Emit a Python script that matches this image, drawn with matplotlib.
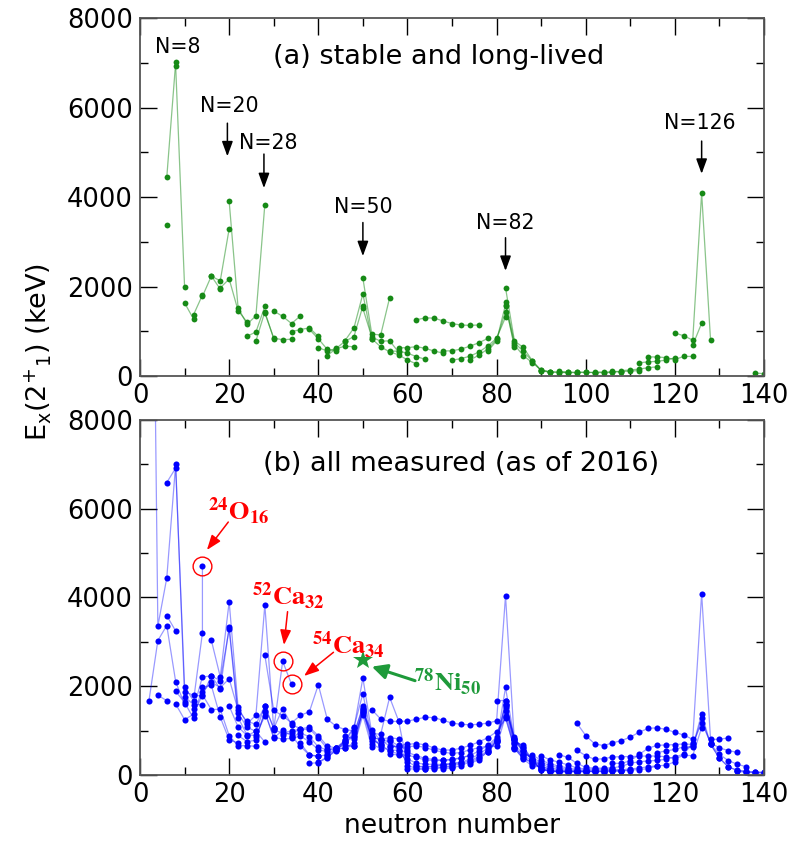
import matplotlib.pyplot as plt
from matplotlib.ticker import MultipleLocator

plt.rcParams['font.family'] = ['DejaVu Sans']
plt.rcParams['mathtext.fontset'] = 'dejavusans'

# ---- (a) stable and long-lived : (neutron number, E(2+1) keV) per element
a_Be = ([6], [3368])
a_C = ([6, 8], [4439, 7012])
a_O = ([8, 10], [6917, 1982])
a_Ne = ([10, 12], [1634, 1275])
a_Mg = ([12, 14], [1369, 1809])
a_Si = ([14, 16, 18], [1779, 2235, 1942])
a_S = ([16, 18, 20], [2231, 2128, 3291])
a_Ar = ([18, 20, 22, 24], [1970, 2168, 1461, 1208])
a_Ca = ([20, 22, 24, 26, 28], [3904, 1525, 1157, 1346, 3832])
a_Ti = ([24, 26, 28], [889, 984, 1554])
a_Cr = ([26, 28, 30], [783, 1434, 835])
a_Fe = ([28, 30, 32, 34], [1408, 847, 811, 824])
a_Ni = ([30, 32, 34, 36], [1454, 1333, 1173, 1346])
a_Zn = ([34, 36, 38, 40], [992, 1039, 1077, 885])
a_Ge = ([38, 40, 42, 44], [1040, 834, 596, 563])
a_Se = ([40, 42, 44, 46, 48], [635, 559, 614, 666, 655])
a_Kr = ([42, 44, 46, 48, 50], [455, 617, 777, 882, 1565])
a_Sr = ([46, 48, 50, 52], [793, 1077, 1836, 832])
a_Zr = ([50, 52, 54, 56], [2186, 935, 919, 1751])
a_Mo = ([50, 52, 54, 56, 58], [1510, 871, 778, 787, 536])
a_Ru = ([52, 54, 56, 58, 60, 62], [833, 652, 540, 475, 358, 270])
a_Pd = ([56, 58, 60, 62, 64], [556, 556, 512, 434, 374])
a_Cd = ([58, 60, 62, 64, 66, 68], [633, 633, 658, 618, 558, 513])
a_Sn = ([62, 64, 66, 68, 70, 72, 74, 76], [1257, 1300, 1294, 1230, 1171, 1141, 1132, 1141])
a_Te = ([68, 70, 72, 74, 76, 78], [560, 564, 603, 666, 743, 839])
a_Xe = ([70, 72, 74, 76, 78, 80, 82], [354, 389, 443, 536, 668, 847, 1313])
a_Ba = ([74, 76, 78, 80, 82], [357, 465, 605, 819, 1436])
a_Ce = ([78, 80, 82, 84], [552, 789, 1596, 641])
a_Nd = ([82, 84, 86, 88, 90], [1576, 697, 454, 302, 130])
a_Sm = ([82, 84, 86, 88, 90, 92], [1660, 747, 550, 334, 122, 82])
a_Gd = ([82, 84, 86, 88, 90, 92, 94, 96], [1972, 784, 638, 344, 123, 89, 79, 75])
a_Dy = ([90, 92, 94, 96, 98], [138, 99, 87, 81, 73])
a_Er = ([94, 96, 98, 100, 102], [102, 91, 81, 80, 79])
a_Yb = ([98, 100, 102, 104, 106], [88, 84, 79, 76, 82])
a_Hf = ([102, 104, 106, 108], [91, 88, 93, 93])
a_W = ([106, 108, 110, 112], [104, 100, 111, 122])
a_Os = ([108, 110, 112, 114, 116], [120, 137, 155, 187, 206])
a_Pt = ([112, 114, 116, 118, 120], [296, 317, 328, 356, 407])
a_Hg = ([114, 116, 118, 120, 122, 124], [428, 426, 412, 368, 440, 437])
a_Pb = ([120, 122, 124, 126, 128], [961, 899, 803, 4086, 800])
a_Po = ([124, 126], [687, 1181])
a_Th = ([138, 140], [68, 53])

stable = [a_Be, a_C, a_O, a_Ne, a_Mg, a_Si, a_S, a_Ar, a_Ca, a_Ti, a_Cr, a_Fe,
          a_Ni, a_Zn, a_Ge, a_Se, a_Kr, a_Sr, a_Zr, a_Mo, a_Ru, a_Pd, a_Cd,
          a_Sn, a_Te, a_Xe, a_Ba, a_Ce, a_Nd, a_Sm, a_Gd, a_Dy, a_Er, a_Yb,
          a_Hf, a_W, a_Os, a_Pt, a_Hg, a_Pb, a_Po, a_Th]

# ---- (b) all measured (as of 2016)
b_He = ([4, 6], [1797, 1675])
b_Be = ([2, 4, 6, 8, 10], [1670, 3030, 3368, 2102, 1590])
b_C = ([2, 4, 6, 8, 10, 12, 14], [21000, 3354, 4439, 7012, 1766, 1585, 1588])
b_X = ([6, 8], [3590, 3245])
b_O = ([6, 8, 10, 12, 14, 14], [6590, 6917, 1982, 1674, 3199, 4720])
b_Ne = ([8, 10, 12, 14, 16, 18, 20, 22], [1887, 1634, 1275, 1982, 2018, 1304, 791, 722])
b_Mg = ([8, 10, 12, 14, 16, 18, 20, 22, 24, 26], [1598, 1247, 1369, 1809, 1474, 1482, 885, 660, 660, 646])
b_Si = ([10, 12, 14, 16, 18, 20, 22, 24, 26, 28], [1879, 1796, 1779, 2235, 1942, 3328, 1399, 1071, 986, 742])
b_S = ([12, 14, 16, 18, 20, 22, 24, 26, 28], [1497, 2211, 2231, 2128, 3291, 1292, 904, 890, 1329])
b_Ar = ([14, 16, 18, 20, 22, 24, 26, 28, 30], [1867, 2091, 1970, 2168, 1461, 1208, 1144, 1554, 1050])
b_Ca = ([16, 18, 20, 22, 24, 26, 28, 30, 32, 34], [3036, 2213, 3904, 1525, 1157, 1346, 3832, 1027, 2563, 2043])
b_Ti = ([20, 22, 24, 26, 28, 30, 32, 34, 36], [1555, 1083, 889, 984, 1554, 1050, 1495, 1129, 1047])
b_Cr = ([22, 24, 26, 28, 30, 32, 34, 36, 38, 40], [892, 752, 783, 1434, 835, 1007, 880, 646, 446, 420])
b_Fe = ([26, 28, 30, 32, 34, 36, 38, 40, 42], [849, 1408, 847, 811, 824, 877, 746, 573, 522])
b_Ni = ([28, 30, 32, 34, 36, 38, 40, 42, 44, 46, 48], [2700, 1454, 1333, 1173, 1346, 1425, 2033, 1260, 1096, 1024, 992])
b_Zn = ([30, 32, 34, 36, 38, 40, 42, 44, 46, 48, 50], [1004, 954, 992, 1039, 1077, 885, 653, 606, 599, 730, 1492])
b_Ge = ([32, 34, 36, 38, 40, 42, 44, 46, 48, 50, 52], [902, 957, 1016, 1040, 834, 596, 563, 619, 659, 1348, 624])
b_Se = ([34, 36, 38, 40, 42, 44, 46, 48, 50, 52, 54], [854, 945, 862, 635, 559, 614, 666, 655, 1455, 704, 589])
b_Kr = ([36, 38, 40, 42, 44, 46, 48, 50, 52, 54, 56, 58, 60],
        [710, 456, 424, 455, 617, 777, 882, 1565, 775, 707, 769, 665, 554])
b_Sr = ([38, 40, 42, 44, 46, 48, 50, 52, 54, 56, 58, 60, 62, 64],
        [261, 278, 386, 574, 793, 1077, 1836, 832, 815, 837, 815, 144, 129, 126])
b_Zr = ([40, 42, 44, 46, 48, 50, 52, 54, 56, 58, 60, 62, 64, 66, 68, 70],
        [290, 407, 540, 752, 1057, 2186, 935, 919, 1751, 1223, 212, 152, 140, 152, 174, 185])
b_Mo = ([42, 44, 46, 48, 50, 52, 54, 56, 58, 60, 62, 64, 66, 68, 70],
        [444, 567, 740, 948, 1510, 871, 778, 787, 536, 297, 192, 172, 193, 214, 240])
b_Ru = ([44, 46, 48, 50, 52, 54, 56, 58, 60, 62, 64, 66, 68, 70, 72],
        [616, 739, 865, 1431, 833, 652, 540, 475, 358, 270, 242, 241, 237, 265, 270])
b_Pd = ([46, 48, 50, 52, 54, 56, 58, 60, 62, 64, 66, 68, 70, 72, 74],
        [874, 814, 1415, 863, 666, 556, 556, 512, 434, 374, 349, 333, 341, 379, 438])
b_Cd = ([50, 52, 54, 56, 58, 60, 62, 64, 66, 68, 70, 72, 74, 76, 78, 80, 82],
        [1395, 1004, 777, 658, 633, 633, 658, 618, 558, 513, 488, 506, 569, 613, 652, 645, 1325])
b_Sn = ([52, 54, 56, 58, 60, 62, 64, 66, 68, 70, 72, 74, 76, 78, 80, 82, 84, 86],
        [1472, 1260, 1208, 1206, 1212, 1257, 1300, 1294, 1230, 1171, 1141, 1132, 1141, 1169, 1221, 4041, 726, 682])
b_Te = ([56, 58, 60, 62, 64, 66, 68, 70, 72, 74, 76, 78, 80, 82, 84, 86],
        [625, 657, 689, 709, 679, 606, 560, 564, 603, 666, 743, 839, 974, 1279, 606, 443])
b_Xe = ([56, 58, 60, 62, 64, 66, 68, 70, 72, 74, 76, 78, 80, 82, 84, 86, 88, 90],
        [470, 453, 450, 394, 337, 323, 331, 354, 389, 443, 536, 668, 847, 1313, 589, 377, 287, 252])
b_Ba = ([62, 64, 66, 68, 70, 72, 74, 76, 78, 80, 82, 84, 86, 88, 90, 92],
        [200, 185, 196, 230, 256, 284, 357, 465, 605, 819, 1436, 602, 360, 199, 181, 142])
b_Ce = ([66, 68, 70, 72, 74, 76, 78, 80, 82, 84, 86, 88, 90, 92, 94],
        [142, 170, 207, 254, 325, 409, 552, 789, 1596, 641, 397, 258, 158, 97, 81])
b_Nd = ([68, 70, 72, 74, 76, 78, 80, 82, 84, 86, 88, 90, 92, 94, 96],
        [134, 159, 213, 294, 374, 521, 774, 1576, 697, 454, 302, 130, 73, 72, 67])
b_Sm = ([74, 76, 78, 80, 82, 84, 86, 88, 90, 92, 94, 96, 98],
        [254, 347, 531, 768, 1660, 747, 550, 334, 122, 82, 76, 73, 71])
b_Gd = ([78, 80, 82, 84, 86, 88, 90, 92, 94, 96, 98, 100],
        [515, 743, 1972, 784, 638, 344, 123, 89, 79, 75, 72, 69])
b_Dy = ([80, 82, 84, 86, 88, 90, 92, 94, 96, 98, 100, 102],
        [1677, 1678, 803, 614, 335, 138, 99, 87, 81, 73, 76, 74])
b_Er = ([82, 84, 86, 88, 90, 92, 94, 96, 98, 100, 102, 104],
        [1579, 808, 561, 345, 192, 126, 102, 91, 81, 80, 79, 77])
b_Yb = ([82, 84, 86, 88, 90, 92, 94, 96, 98, 100, 102, 104, 106, 108],
        [1531, 821, 536, 358, 243, 167, 123, 102, 88, 84, 79, 76, 82, 84])
b_Hf = ([84, 86, 88, 90, 92, 94, 96, 98, 100, 102, 104, 106, 108, 110],
        [858, 477, 390, 285, 211, 159, 124, 100, 95, 91, 88, 93, 93, 98])
b_W = ([88, 90, 92, 94, 96, 98, 100, 102, 104, 106, 108, 110, 112, 114, 116],
       [450, 332, 252, 199, 157, 123, 112, 109, 106, 104, 100, 111, 122, 143, 207])
b_Os = ([90, 92, 94, 96, 98, 100, 102, 104, 106, 108, 110, 112, 114, 116, 118, 120],
        [431, 341, 287, 228, 159, 135, 132, 132, 127, 120, 137, 155, 187, 206, 218, 300])
b_Pt = ([94, 96, 98, 100, 102, 104, 106, 108, 110, 112, 114, 116, 118, 120, 122, 124],
        [458, 394, 264, 170, 153, 155, 163, 192, 266, 296, 317, 328, 356, 407, 470, 719])
b_Hg = ([98, 100, 102, 104, 106, 108, 110, 112, 114, 116, 118, 120, 122, 124, 126],
        [558, 434, 352, 367, 405, 413, 416, 423, 428, 426, 412, 368, 440, 437, 1068])
b_Pb = ([98, 100, 102, 104, 106, 108, 110, 112, 114, 116, 118, 120, 122, 124, 126, 128, 130, 132],
        [1168, 888, 702, 662, 724, 774, 854, 965, 1049, 1064, 1027, 961, 899, 803, 4086, 800, 805, 836])
b_Po = ([106, 108, 110, 112, 114, 116, 118, 120, 122, 124, 126, 128, 130, 132, 134],
        [262, 262, 320, 463, 605, 666, 677, 684, 700, 687, 1181, 727, 609, 550, 509])
b_Rn = ([116, 118, 120, 122, 124, 126, 128, 130, 132, 134, 136],
        [504, 543, 575, 636, 644, 1274, 694, 462, 324, 241, 186])
b_Ra = ([122, 124, 126, 128, 130, 132, 134, 136, 138, 140],
        [603, 629, 1382, 688, 389, 178, 111, 84, 68, 64])
b_Th = ([128, 130, 132, 134, 136, 138, 140], [689, 373, 183, 98, 72, 58, 53])
b_U = ([134, 136, 138, 140], [81, 59, 52, 40])

measured = [b_He, b_Be, b_C, b_X, b_O, b_Ne, b_Mg, b_Si, b_S, b_Ar, b_Ca, b_Ti,
            b_Cr, b_Fe, b_Ni, b_Zn, b_Ge, b_Se, b_Kr, b_Sr, b_Zr, b_Mo, b_Ru,
            b_Pd, b_Cd, b_Sn, b_Te, b_Xe, b_Ba, b_Ce, b_Nd, b_Sm, b_Gd, b_Dy,
            b_Er, b_Yb, b_Hf, b_W, b_Os, b_Pt, b_Hg, b_Pb, b_Po, b_Rn, b_Ra,
            b_Th, b_U]

ni78 = ([50], [2600])

# magic number labels (panel a): text, N, label height, arrow start, arrow end
magic_txt = ['N=8', 'N=20', 'N=28', 'N=50', 'N=82', 'N=126']
magic_n = [8.5, 20, 28.7, 50, 82, 125.6]
magic_lab_y = [7350, 6030, 5210, 3780, 3420, 5650]
magic_arrow_n = [None, 19.6, 27.8, 50, 82, 126]
magic_arrow_y0 = [None, 5650, 4960, 3430, 3090, 5250]
magic_arrow_y1 = [None, 4910, 4200, 2680, 2350, 4520]

green = '#168a16'
blue = '#0000ff'

fig = plt.figure(figsize=(7.92, 8.42), dpi=100)
ax1 = fig.add_axes([0.1768, 0.5534, 0.7879, 0.4252])
ax2 = fig.add_axes([0.1768, 0.0796, 0.7879, 0.4216])

for n, e in stable:
    ax1.plot(n, e, '-', color=green, lw=0.9, alpha=0.5)
    ax1.plot(n, e, 'o', color=green, ms=4.2, mew=0)

for n, e in measured:
    ax2.plot(n, e, '-', color=blue, lw=0.9, alpha=0.4)
    ax2.plot(n, e, 'o', color=blue, ms=4.4, mew=0)

for ax in (ax1, ax2):
    ax.set_xlim(0, 140)
    ax.set_ylim(0, 8000)
    ax.xaxis.set_major_locator(MultipleLocator(20))
    ax.xaxis.set_minor_locator(MultipleLocator(10))
    ax.yaxis.set_major_locator(MultipleLocator(2000))
    ax.yaxis.set_minor_locator(MultipleLocator(1000))
    ax.tick_params(which='both', direction='in', top=True, right=True,
                   labelsize=18.5, width=1.0, color='k')
    ax.tick_params(which='major', length=12, pad=5)
    ax.tick_params(which='minor', length=6)
    for sp in ax.spines.values():
        sp.set_color('#555555')
        sp.set_linewidth(1.3)

ax1.text(67, 7130, '(a) stable and long-lived', fontsize=19.5, ha='center', va='center')
ax2.text(72, 7010, '(b) all measured (as of 2016)', fontsize=19.5, ha='center', va='center')

for i, t in enumerate(magic_txt):
    ax1.text(magic_n[i], magic_lab_y[i], t, fontsize=14.8, ha='center', va='center')
    if magic_arrow_n[i] is not None:
        ax1.annotate('', xy=(magic_arrow_n[i], magic_arrow_y1[i]),
                     xytext=(magic_arrow_n[i], magic_arrow_y0[i]),
                     arrowprops=dict(arrowstyle='-|>,head_length=0.6,head_width=0.22',
                                     color='k', lw=1.1, shrinkA=0, shrinkB=0,
                                     mutation_scale=15))

# red circled nuclei in panel b
circ_n = [b_O[0][-1], b_Ca[0][-2], b_Ca[0][-1]]
circ_e = [b_O[1][-1], b_Ca[1][-2], b_Ca[1][-1]]
ax2.plot(circ_n, circ_e, 'o', ms=13.5, mfc='none', mec='red', mew=1.0)

red_lab = [r'$\mathbf{^{24}O_{16}}$', r'$\mathbf{^{52}Ca_{32}}$', r'$\mathbf{^{54}Ca_{34}}$']
red_lab_pos = [(22, 5930), (33.3, 4020), (46.7, 2930)]
red_tail = [(19.8, 5700), (33.1, 3680), (43.4, 2765)]
red_head = [(15.0, 5070), (32.3, 2930), (36.8, 2231)]
for i in range(3):
    ax2.text(red_lab_pos[i][0], red_lab_pos[i][1], red_lab[i], color='red',
             fontsize=19, ha='center', va='center', math_fontfamily='stix')
    ax2.annotate('', xy=red_head[i], xytext=red_tail[i],
                 arrowprops=dict(arrowstyle='-|>,head_length=0.6,head_width=0.22',
                                 color='red', lw=1.1, shrinkA=0, shrinkB=0,
                                 mutation_scale=15))

ax2.plot(ni78[0], ni78[1], '*', color='#1e9a3a', ms=15, mew=0)
ax2.text(68.9, 2085, r'$\mathbf{^{78}Ni_{50}}$', color='#1e9a3a', fontsize=19,
         ha='center', va='center', math_fontfamily='stix')
ax2.annotate('', xy=(52, 2441), xytext=(61.7, 2125),
             arrowprops=dict(arrowstyle='-|>,head_length=0.6,head_width=0.3',
                             color='#1e9a3a', lw=2.2, shrinkA=0, shrinkB=0,
                             mutation_scale=15))

ax2.set_xlabel('neutron number', fontsize=19.2, labelpad=4)
fig.text(38 / 792, 1 - 352 / 842, r'E$_{\rm x}$(2$^{+}$$_{1}$) (keV)', fontsize=19.5,
         rotation=90, ha='center', va='center')

fig.savefig('out.png', dpi=100)
